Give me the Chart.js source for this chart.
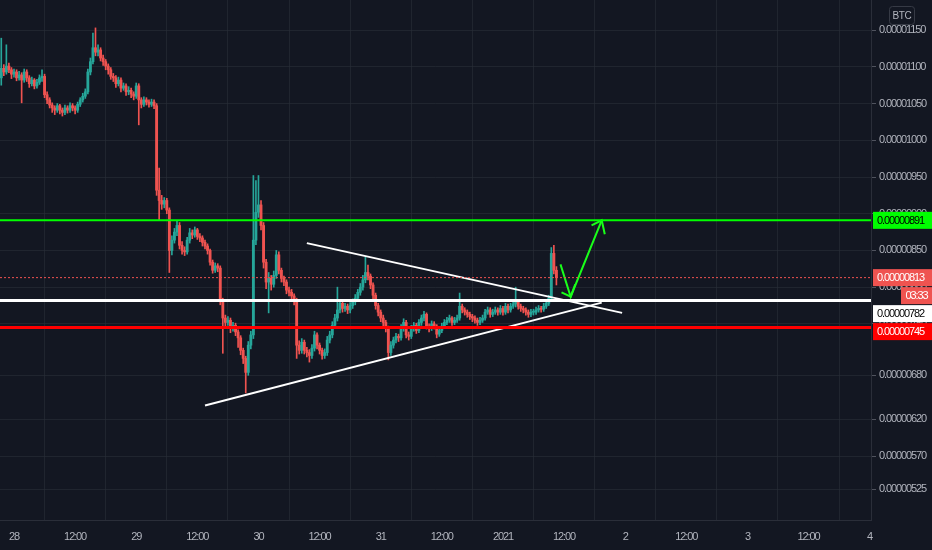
<!DOCTYPE html>
<html lang="en">
<head>
<meta charset="UTF-8">
<title>BTC 30m</title>
<script src="https://cdn.jsdelivr.net/npm/chart.js"></script>
<style>
  body { margin: 0; background: #131722; }
</style>
</head>
<body>
<canvas id="priceChart" width="932" height="550"></canvas>
<script>
// prices in satoshi (1e-8 BTC), 30 minute candles starting Dec 27 21:30
const candleStartHour = -2.5;   // hours from Dec 28 00:00
const candleStepHour = 0.5;
const firstOpen = 1085;
const closes = [
  1098,1093,1101,1096,1090,1093,1085,1089,1082,1093,
  1085,1077,1082,1074,1079,1085,1087,1062,1055,1048,
  1044,1041,1047,1041,1038,1044,1041,1047,1044,1041,
  1049,1055,1060,1066,1093,1107,1126,1120,1123,1112,
  1107,1101,1096,1087,1085,1077,1082,1071,1074,1066,
  1068,1063,1060,1074,1055,1049,1055,1052,1049,1052,
  1047,932,918,913,918,905,850,864,875,884,
  857,850,848,864,874,871,878,869,867,861,
  856,850,834,823,829,826,782,758,752,755,
  744,748,739,731,714,703,684,721,735,864,
  902,912,884,834,807,812,804,816,844,823,
  812,807,796,793,788,782,721,714,725,714,
  711,707,717,735,721,714,707,711,728,735,
  748,758,769,778,771,774,769,775,780,785,
  793,800,810,820,815,803,789,775,766,758,
  752,744,711,721,728,733,731,744,752,735,
  733,744,748,741,752,758,763,747,744,750,
  747,736,741,747,752,755,758,752,755,758,
  774,769,766,763,760,758,755,752,755,758,
  766,769,763,766,769,766,771,766,774,769,
  774,777,780,774,771,769,766,763,766,766,
  769,771,770,774,778,785,846,823,813
];
const highs = [
  1139,1103,1130,1105,1099,1097,1096,1094,1092,1097,
  1096,1088,1086,1084,1083,1089,1096,1090,1066,1058,
  1051,1047,1050,1049,1044,1048,1047,1051,1050,1047,
  1052,1058,1064,1070,1097,1112,1146,1153,1130,1126,
  1116,1110,1104,1099,1091,1088,1086,1085,1078,1077,
  1073,1071,1066,1078,1077,1058,1059,1058,1055,1056,
  1055,1050,962,925,922,921,908,870,880,890,
  888,862,855,868,880,878,882,880,873,870,
  864,859,852,837,833,832,829,785,762,760,
  758,752,751,742,734,717,706,726,740,952,
  945,952,918,888,838,820,816,822,850,848,
  826,815,810,800,797,791,785,727,730,728,
  718,715,722,740,738,724,717,716,733,740,
  753,763,800,783,782,778,777,779,784,790,
  797,805,816,841,830,818,806,792,778,769,
  762,755,747,726,732,737,736,749,757,755,
  739,748,752,751,756,762,767,765,750,754,
  753,749,745,751,756,759,762,760,759,762,
  792,777,772,769,766,763,761,758,759,762,
  770,773,772,770,773,772,775,774,778,777,
  778,781,800,783,777,774,772,769,770,770,
  773,775,774,778,782,789,854,857,828
];
const lows = [
  1075,1088,1090,1092,1084,1086,1081,1082,1051,1079,
  1080,1072,1074,1070,1071,1076,1080,1058,1050,1044,
  1038,1035,1038,1036,1033,1035,1037,1038,1040,1036,
  1038,1046,1052,1057,1063,1089,1104,1115,1115,1108,
  1102,1096,1090,1083,1080,1072,1074,1066,1068,1061,
  1062,1058,1055,1057,1021,1044,1046,1048,1045,1046,
  1043,925,891,906,908,900,820,844,860,870,
  852,845,843,845,860,866,868,865,862,856,
  852,845,830,819,820,821,776,710,745,748,
  738,740,734,718,708,696,656,680,716,730,
  858,895,878,826,798,765,796,800,812,818,
  807,802,791,788,783,776,703,709,710,709,
  705,698,703,713,716,709,702,703,707,724,
  731,744,754,765,766,767,764,765,771,776,
  781,789,796,806,810,798,784,770,761,753,
  747,739,701,707,717,724,726,728,740,731,
  728,730,740,737,738,748,754,743,739,741,
  743,731,733,738,744,749,752,748,749,752,
  755,765,762,759,756,753,751,748,749,752,
  755,763,759,760,763,762,763,762,763,765,
  766,771,773,770,767,765,762,759,760,762,
  763,766,766,767,771,775,782,818,803
];

const xTickHours = [0,12,24,36,48,60,72,84,96,108,120,132,144,156,168];
const xTickLabels = ['28','12:00','29','12:00','30','12:00','31','12:00','2021','12:00','2','12:00','3','12:00','4'];
const yTickValues = [525,570,620,680,750,800,850,900,950,1000,1050,1100,1150];

const levelGreen = 891;
const levelWhite = 782;
const levelRed = 745;
const lastPrice = 813;
const countdown = '03:33';

// drawn trend lines and arrow, in (hour, price)
const upperTrend = [{x:57.5,y:860},{x:119.4,y:765}];
const lowerTrend = [{x:37.5,y:639},{x:115.4,y:779}];
const arrowPath = [{x:107.3,y:831},{x:109.3,y:787},{x:115.4,y:891}];
const arrowHeadDown = [{x:107.5,y:793},{x:109.3,y:787},{x:110.2,y:804}];
const arrowHeadUp = [{x:113.4,y:884},{x:115.4,y:891},{x:116.0,y:872}];

const xMin = -2.75, xMax = 168.27;
const yMin = 483, yMax = 1191;

const UP = '#26a69a', DOWN = '#ef5350';
const FONT = '"Liberation Sans", Arial, sans-serif';
const FONT_SIZE = 11;

const opens = closes.map((c, i) => i === 0 ? firstOpen : closes[i - 1]);
const times = closes.map((c, i) => candleStartHour + i * candleStepHour);
const colors = closes.map((c, i) => c >= opens[i] ? UP : DOWN);

function hLine(v) { return [{x:xMin,y:v},{x:xMax,y:v}]; }
function lineSet(data, color, width, dash) {
    return {
        type: 'line', data: data, borderColor: color, borderWidth: width,
        borderDash: dash || [], pointRadius: 0, tension: 0, order: 0
    };
}

function satoshi(v) { return (v * 1e-8).toFixed(8); }

// price tags on the right axis
const priceTags = [
    {value: levelGreen, bg: '#00ff00', fg: '#000000'},
    {value: lastPrice, bg: '#ef5350', fg: '#ffffff', extra: countdown},
    {value: levelWhite, bg: '#ffffff', fg: '#000000'},
    {value: levelRed, bg: '#ff0000', fg: '#ffffff'}
];

const tagPlugin = {
    id: 'tags',
    beforeDraw(chart) {
        const ctx = chart.ctx;
        ctx.fillStyle = '#131722';
        ctx.fillRect(0, 0, chart.width, chart.height);
        // narrow the text a bit, the platform font is condensed
        ctx.letterSpacing = '-1.1px';
    },
    afterDraw(chart) {
        const ctx = chart.ctx;
        const y = chart.scales.y;
        const left = chart.chartArea.right + 2;
        const h = 17;
        let prevBottom = -100;
        ctx.save();
        ctx.font = FONT_SIZE + 'px ' + FONT;
        ctx.textBaseline = 'middle';
        priceTags.forEach(tag => {
            let top = Math.max(y.getPixelForValue(tag.value) - h / 2, prevBottom + 1);
            ctx.fillStyle = tag.bg;
            ctx.fillRect(left, top, chart.width - left, h);
            ctx.fillStyle = tag.fg;
            ctx.textAlign = 'left';
            ctx.fillText(satoshi(tag.value), left + 4, top + h / 2 + 0.5);
            prevBottom = top + h;
            if (tag.extra) {
                const t2 = prevBottom + 1;
                ctx.fillStyle = tag.bg;
                ctx.fillRect(chart.width - 31, t2, 31, h);
                ctx.fillStyle = tag.fg;
                ctx.textAlign = 'center';
                ctx.fillText(tag.extra, chart.width - 15.5, t2 + h / 2 + 0.5);
                prevBottom = t2 + h;
            }
        });
        // currency box
        ctx.strokeStyle = '#363a45';
        ctx.lineWidth = 1;
        ctx.beginPath();
        ctx.roundRect(889.5, 6.5, 25, 18, 3);
        ctx.stroke();
        ctx.fillStyle = '#b2b5be';
        ctx.textAlign = 'center';
        ctx.font = '10px ' + FONT;
        ctx.letterSpacing = '-0.4px';
        ctx.fillText('BTC', 902, 16);
        ctx.restore();
    }
};

const ctx = document.getElementById('priceChart').getContext('2d');
const chart = new Chart(ctx, {
    type: 'bar',
    data: {
        datasets: [
            lineSet(hLine(levelGreen), '#00ff00', 2),
            lineSet(hLine(levelWhite), '#ffffff', 3),
            lineSet(hLine(levelRed), '#ff0000', 3),
            lineSet(hLine(lastPrice), '#ef5350', 1, [2, 2]),
            lineSet(upperTrend, '#ffffff', 2),
            lineSet(lowerTrend, '#ffffff', 2),
            lineSet(arrowPath, '#19ff19', 2),
            lineSet(arrowHeadDown, '#19ff19', 2),
            lineSet(arrowHeadUp, '#19ff19', 2),
            {
                label: 'body',
                data: opens.map((o, i) => ({x: times[i], y: [o, closes[i]]})),
                backgroundColor: colors, barThickness: 2.2, minBarLength: 1,
                grouped: false, order: 1
            },
            {
                label: 'wick',
                data: lows.map((l, i) => ({x: times[i], y: [l, highs[i]]})),
                backgroundColor: colors, barThickness: 1,
                grouped: false, order: 2
            }
        ]
    },
    options: {
        responsive: false,
        animation: false,
        layout: { padding: 0 },
        plugins: { legend: { display: false }, tooltip: { enabled: false } },
        scales: {
            x: {
                type: 'linear', min: xMin, max: xMax, offset: false,
                afterBuildTicks: s => { s.ticks = xTickHours.map(v => ({value: v})); },
                afterFit: s => { s.height = 30; s.paddingLeft = 0; s.paddingRight = 0; },
                grid: { color: 'rgba(42,46,57,0.6)', drawTicks: false },
                border: { color: '#2a2e39' },
                ticks: {
                    autoSkip: false, maxRotation: 0, padding: 10, color: '#b2b5be',
                    font: { family: FONT, size: FONT_SIZE },
                    callback: (v, i) => xTickLabels[i]
                }
            },
            y: {
                type: 'linear', position: 'right', min: yMin, max: yMax,
                afterBuildTicks: s => { s.ticks = yTickValues.map(v => ({value: v})); },
                afterFit: s => { s.width = 61; s.paddingTop = 0; s.paddingBottom = 0; },
                grid: { color: 'rgba(42,46,57,0.6)', tickColor: '#50535e', tickLength: 5 },
                border: { color: '#2a2e39' },
                ticks: {
                    autoSkip: false, padding: 3, color: '#b2b5be',
                    font: { family: FONT, size: FONT_SIZE },
                    callback: v => satoshi(v)
                }
            }
        }
    },
    plugins: [tagPlugin]
});
</script>
</body>
</html>
